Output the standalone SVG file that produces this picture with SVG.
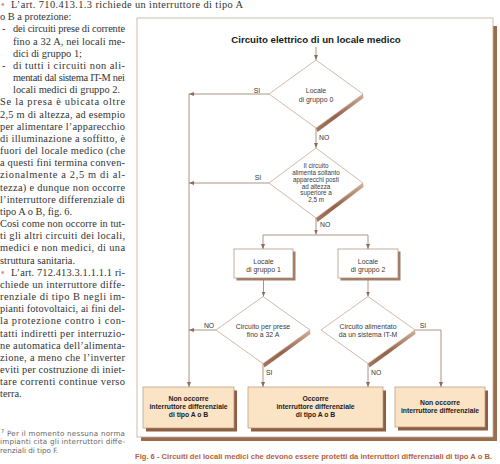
<svg xmlns="http://www.w3.org/2000/svg" width="500" height="464" viewBox="0 0 500 464">
<style>
.body{font-family:"Liberation Serif",serif;font-size:10.4px;fill:#333}
.bul{font-family:"Liberation Sans",sans-serif;font-size:10px;fill:#e6928a}
.fn{font-family:"DejaVu Sans",sans-serif;font-size:7.2px;fill:#666}
.cap{font-family:"Liberation Sans",sans-serif;font-weight:bold;font-size:7px;fill:#b5603e}
.title{font-family:"Liberation Sans",sans-serif;font-weight:bold;font-size:9.7px;fill:#1a1a1a;text-anchor:middle}
.dt{font-family:"Liberation Sans",sans-serif;font-size:6.9px;fill:#3a3a3a;text-anchor:middle}
.dt2{font-family:"Liberation Sans",sans-serif;font-size:6.3px;fill:#3a3a3a;text-anchor:middle}
.lbl{font-family:"Liberation Sans",sans-serif;font-size:6.8px;fill:#333}
.bt{font-family:"Liberation Sans",sans-serif;font-weight:bold;font-size:6.8px;fill:#222;text-anchor:middle}
.dia{fill:#fff;stroke:#c4a896;stroke-width:0.8}
.dsh{fill:url(#dg)}
.box{fill:#fff;stroke:#a68a78;stroke-width:0.7}
.bsh{fill:#a47c64}
.obox{fill:#fbe4c6;stroke:#b89474;stroke-width:0.7}
.osh{fill:#8e5e42}
.con{fill:none;stroke:#a48878;stroke-width:0.9}
</style>
<defs>
<linearGradient id="dg" x1="1" y1="0" x2="0" y2="1">
<stop offset="0" stop-color="#cfae98"/>
<stop offset="0.6" stop-color="#93624a"/>
<stop offset="1" stop-color="#a4785e"/>
</linearGradient>
<marker id="ar" markerUnits="userSpaceOnUse" markerWidth="5" markerHeight="4" refX="5" refY="2" orient="auto">
<path d="M0,0 L5,2 L0,4 z" fill="#8c6c5c"/>
</marker>
</defs>

<g id="text-column">
<text class="bul" x="1" y="8">•</text>
<text class="body" x="11" y="8" textLength="232" lengthAdjust="spacing">L’art. 710.413.1.3 richiede un interruttore di tipo A</text>
<text class="body" x="0" y="20.2">o B a protezione:</text>
<text class="body" x="2" y="32.3">-</text>
<text class="body" x="13" y="32.3" textLength="112" lengthAdjust="spacing">dei circuiti prese di corrente</text>
<text class="body" x="13" y="44.5" textLength="112" lengthAdjust="spacing">fino a 32 A, nei locali me-</text>
<text class="body" x="13" y="56.7">dici di gruppo 1;</text>
<text class="body" x="2" y="68.9">-</text>
<text class="body" x="13" y="68.9" textLength="112" lengthAdjust="spacing">di tutti i circuiti non ali-</text>
<text class="body" x="13" y="81" textLength="112" lengthAdjust="spacing">mentati dal sistema IT-M nei</text>
<text class="body" x="13" y="93.2">locali medici di gruppo 2.</text>
<text class="body" x="0" y="105.4" textLength="125" lengthAdjust="spacing">Se la presa è ubicata oltre</text>
<text class="body" x="0" y="117.5" textLength="125" lengthAdjust="spacing">2,5 m di altezza, ad esempio</text>
<text class="body" x="0" y="129.7" textLength="125" lengthAdjust="spacing">per alimentare l’apparecchio</text>
<text class="body" x="0" y="141.9" textLength="125" lengthAdjust="spacing">di illuminazione a soffitto, è</text>
<text class="body" x="0" y="154" textLength="125" lengthAdjust="spacing">fuori del locale medico (che</text>
<text class="body" x="0" y="166.2" textLength="125" lengthAdjust="spacing">a questi fini termina conven-</text>
<text class="body" x="0" y="178.4" textLength="125" lengthAdjust="spacing">zionalmente a 2,5 m di al-</text>
<text class="body" x="0" y="190.6" textLength="125" lengthAdjust="spacing">tezza) e dunque non occorre</text>
<text class="body" x="0" y="202.7" textLength="125" lengthAdjust="spacing">l’interruttore differenziale di</text>
<text class="body" x="0" y="214.9">tipo A o B, fig. 6.</text>
<text class="body" x="0" y="227.1" textLength="125" lengthAdjust="spacing">Così come non occorre in tut-</text>
<text class="body" x="0" y="239.2" textLength="125" lengthAdjust="spacing">ti gli altri circuiti dei locali,</text>
<text class="body" x="0" y="251.4" textLength="125" lengthAdjust="spacing">medici e non medici, di una</text>
<text class="body" x="0" y="263.6">struttura sanitaria.</text>
<text class="bul" x="1" y="275.7">•</text>
<text class="body" x="11" y="275.7" textLength="114" lengthAdjust="spacing">L’art. 712.413.3.1.1.1.1 ri-</text>
<text class="body" x="0" y="287.9" textLength="125" lengthAdjust="spacing">chiede un interruttore diffe-</text>
<text class="body" x="0" y="300.1" textLength="125" lengthAdjust="spacing">renziale di tipo B negli im-</text>
<text class="body" x="0" y="312.3" textLength="125" lengthAdjust="spacing">pianti fotovoltaici, ai fini del-</text>
<text class="body" x="0" y="324.4" textLength="125" lengthAdjust="spacing">la protezione contro i con-</text>
<text class="body" x="0" y="336.6" textLength="125" lengthAdjust="spacing">tatti indiretti per interruzio-</text>
<text class="body" x="0" y="348.8" textLength="125" lengthAdjust="spacing">ne automatica dell’alimenta-</text>
<text class="body" x="0" y="360.9" textLength="125" lengthAdjust="spacing">zione, a meno che l’inverter</text>
<text class="body" x="0" y="373.1" textLength="125" lengthAdjust="spacing">eviti per costruzione di iniet-</text>
<text class="body" x="0" y="385.3" textLength="125" lengthAdjust="spacing">tare correnti continue verso</text>
<text class="body" x="0" y="397.4">terra.</text>
<text class="fn" x="1" y="432.5" style="font-size:5px">7</text>
<text class="fn" x="7" y="435.7" textLength="118" lengthAdjust="spacing">Per il momento nessuna norma</text>
<text class="fn" x="0" y="444.2" textLength="125" lengthAdjust="spacing">impianti cita gli interruttori diffe-</text>
<text class="fn" x="0" y="452.7">renziali di tipo F.</text>
</g>

<g id="frame">
<rect x="141" y="26" width="356" height="415" fill="#9c6b4e"/>
<rect x="137" y="18" width="356" height="419" fill="#fff" stroke="#c0aa98" stroke-width="0.8"/>
</g>

<text class="title" x="316" y="42.5">Circuito elettrico di un locale medico</text>

<g id="connectors">
<path class="con" d="M316,47 V60" marker-end="url(#ar)"/>
<path class="con" d="M316,128 V148" marker-end="url(#ar)"/>
<path class="con" d="M316,218 V234.5" marker-end="url(#ar)"/>
<path class="con" d="M263,235 H368"/>
<path class="con" d="M263,235 V249" marker-end="url(#ar)"/>
<path class="con" d="M368,235 V249" marker-end="url(#ar)"/>
<path class="con" d="M269,94 H189" marker-end="url(#ar)"/>
<path class="con" d="M269,183 H189" marker-end="url(#ar)"/>
<path class="con" d="M216,330 H189" marker-end="url(#ar)"/>
<path class="con" d="M189,94 V387" marker-end="url(#ar)"/>
<path class="con" d="M263.5,278 V296.5" marker-end="url(#ar)"/>
<path class="con" d="M368,278 V296.5" marker-end="url(#ar)"/>
<path class="con" d="M263,363.5 V387" marker-end="url(#ar)"/>
<path class="con" d="M368,363.5 V387" marker-end="url(#ar)"/>
<path class="con" d="M415,330 H441 V387" marker-end="url(#ar)"/>
<text class="lbl" x="257" y="92.5" text-anchor="middle">SI</text>
<text class="lbl" x="319" y="139.5">NO</text>
<text class="lbl" x="258" y="179.5" text-anchor="middle">SI</text>
<text class="lbl" x="320" y="226.5">NO</text>
<text class="lbl" x="209" y="327.5" text-anchor="middle">NO</text>
<text class="lbl" x="423" y="327.5" text-anchor="middle">SI</text>
<text class="lbl" x="266" y="374.5">SI</text>
<text class="lbl" x="371" y="374.5">NO</text>
</g>

<g id="d1">
<polygon class="dsh" points="363,94 363.5,98 317.5,132 316,128"/>
<polygon class="dia" points="316,60 363,94 316,128 269,94"/>
<text class="dt" x="316" y="93.2">Locale</text>
<text class="dt" x="316" y="101.8">di gruppo 0</text>
</g>

<g id="d2">
<polygon class="dsh" points="363,183 363.5,187 317.5,222 316,218"/>
<polygon class="dia" points="316,148 363,183 316,218 269,183"/>
<text class="dt2" x="316" y="168.2">Il circuito</text>
<text class="dt2" x="316" y="175">alimenta soltanto</text>
<text class="dt2" x="316" y="181.8">apparecchi posti</text>
<text class="dt2" x="316" y="188.6">ad altezza</text>
<text class="dt2" x="316" y="195.4">superiore a</text>
<text class="dt2" x="316" y="202.2">2,5 m</text>
</g>

<g id="b1">
<rect class="bsh" x="236.5" y="251.5" width="59" height="29"/>
<rect class="box" x="234" y="249" width="59" height="29"/>
<text class="dt" x="263.5" y="264">Locale</text>
<text class="dt" x="263.5" y="272">di gruppo 1</text>
</g>

<g id="b2">
<rect class="bsh" x="340.5" y="251.5" width="60" height="29"/>
<rect class="box" x="338" y="249" width="60" height="29"/>
<text class="dt" x="368" y="264">Locale</text>
<text class="dt" x="368" y="272">di gruppo 2</text>
</g>

<g id="d3">
<polygon class="dsh" points="310,330 310.5,334 264.5,367.5 263,363.5"/>
<polygon class="dia" points="263,296.5 310,330 263,363.5 216,330"/>
<text class="dt" x="263" y="328.5">Circuito per prese</text>
<text class="dt" x="263" y="336.5">fino a 32 A</text>
</g>

<g id="d4">
<polygon class="dsh" points="415,330 415.5,334 369.5,367.5 368,363.5"/>
<polygon class="dia" points="368,296.5 415,330 368,363.5 321,330"/>
<text class="dt" x="368" y="328.5">Circuito alimentato</text>
<text class="dt" x="368" y="336.5">da un sistema IT-M</text>
</g>

<g id="r1">
<rect class="osh" x="146" y="390.5" width="91" height="41"/>
<rect class="obox" x="143" y="387" width="91" height="41"/>
<text class="bt" x="188.5" y="400.5">Non occorre</text>
<text class="bt" x="188.5" y="408.5">interruttore differenziale</text>
<text class="bt" x="188.5" y="416.5">di tipo A o B</text>
</g>

<g id="r2">
<rect class="osh" x="251" y="390.5" width="135" height="41"/>
<rect class="obox" x="248" y="387" width="135" height="41"/>
<text class="bt" x="315.5" y="400.5">Occorre</text>
<text class="bt" x="315.5" y="408.5">interruttore differenziale</text>
<text class="bt" x="315.5" y="416.5">di tipo A o B</text>
</g>

<g id="r3">
<rect class="osh" x="398" y="390.5" width="90" height="40"/>
<rect class="obox" x="395" y="387" width="90" height="40"/>
<text class="bt" x="440" y="404.5">Non occorre</text>
<text class="bt" x="440" y="412.5">interruttore differenziale</text>
</g>

<text class="cap" x="135" y="459" textLength="357" lengthAdjust="spacingAndGlyphs">Fig. 6 - Circuiti dei locali medici che devono essere protetti da interruttori differenziali di tipo A o B.</text>
</svg>
